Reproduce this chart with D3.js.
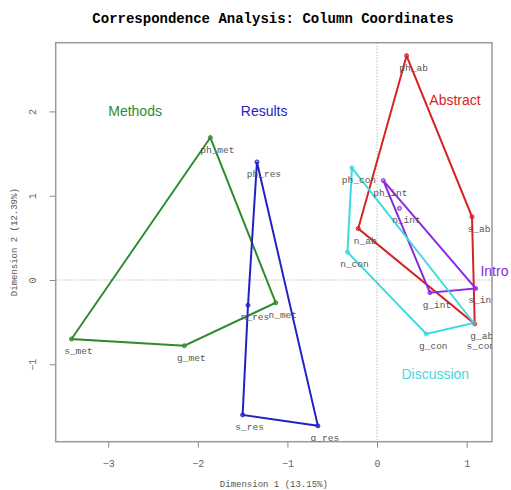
<!DOCTYPE html>
<html>
<head>
<meta charset="utf-8">
<script src="https://cdn.jsdelivr.net/npm/d3@7"></script>
<style>
body { margin: 0; background: #fff; }
</style>
</head>
<body>
<svg width="511" height="490"></svg>
<script>
// column coordinates
var labels = ["ph_ab","s_ab","g_ab","n_ab",
              "ph_int","n_int","s_int","g_int",
              "ph_met","n_met","g_met","s_met",
              "ph_res","n_res","s_res","g_res",
              "ph_con","n_con","g_con","s_con"];
var dim1 = [0.33, 1.06, 1.09, -0.21,
            0.07, 0.25, 1.10, 0.59,
            -1.86, -1.13, -2.15, -3.41,
            -1.34, -1.44, -1.50, -0.66,
            -0.28, -0.33, 0.55, 1.08];
var dim2 = [2.66, 0.75, -0.52, 0.61,
            1.18, 0.85, -0.10, -0.15,
            1.69, -0.27, -0.78, -0.70,
            1.40, -0.30, -1.60, -1.73,
            1.33, 0.33, -0.64, -0.51];
var section = ["Abstract","Abstract","Abstract","Abstract",
               "Intro","Intro","Intro","Intro",
               "Methods","Methods","Methods","Methods",
               "Results","Results","Results","Results",
               "Discussion","Discussion","Discussion","Discussion"];

var sections = ["Methods","Results","Abstract","Intro","Discussion"];
var sectionColors = ["#2e8b2e","#2222c4","#d42424","#8a2be2","#3fd9e0"];
// where the section names sit, in plot coordinates
var nameX = [-2.70, -1.26, 0.87, 1.31, 0.65];
var nameY = [2.0, 2.0, 2.14, 0.11, -1.12];

var xTicks = [-3, -2, -1, 0, 1];
var yTicks = [-1, 0, 1, 2];

var margin = {top: 42.7, right: 19, bottom: 48.3, left: 55.7};
var width = 511 - margin.left - margin.right;
var height = 490 - margin.top - margin.bottom;

var xScale = d3.scaleLinear().domain([-3.586, 1.283]).range([0, width]);
var yScale = d3.scaleLinear().domain([-1.918, 2.815]).range([height, 0]);
var color = d3.scaleOrdinal().domain(sections).range(sectionColors);

var svg = d3.select('svg');

svg.append('text')
   .attr('x', 273).attr('y', 23)
   .attr('text-anchor', 'middle')
   .style('font-family', '"Liberation Mono", "DejaVu Sans Mono", monospace')
   .style('font-weight', 'bold')
   .style('font-size', '14px')
   .text('Correspondence Analysis: Column Coordinates');

var g = svg.append('g')
   .attr('transform', 'translate(' + margin.left + ',' + margin.top + ')');

g.append('clipPath').attr('id', 'plotclip')
 .append('rect').attr('width', width).attr('height', height);

//zero lines
g.append('line')
 .attr('x1', 0).attr('x2', width)
 .attr('y1', yScale(0)).attr('y2', yScale(0))
 .attr('stroke', '#999').attr('stroke-dasharray', '1,2');
g.append('line')
 .attr('x1', xScale(0)).attr('x2', xScale(0))
 .attr('y1', 0).attr('y2', height)
 .attr('stroke', '#999').attr('stroke-dasharray', '1,2');

//axes
var xAxisGroup = g.append('g')
   .attr('transform', 'translate(0,' + height + ')')
   .call(d3.axisBottom(xScale).tickValues(xTicks).tickSize(6).tickPadding(12).tickFormat(d3.format('d')));
var yAxisGroup = g.append('g')
   .call(d3.axisLeft(yScale).tickValues(yTicks).tickSize(6).tickPadding(14).tickFormat(d3.format('d')));
yAxisGroup.selectAll('.tick text')
   .attr('transform', 'rotate(-90)')
   .attr('text-anchor', 'middle')
   .attr('x', 0).attr('dy', 0)
   .attr('y', -20);
[xAxisGroup, yAxisGroup].forEach(function(ax) {
    ax.select('.domain').remove();
    ax.selectAll('.tick line').attr('stroke', '#888');
    ax.selectAll('.tick text')
      .attr('fill', '#666')
      .style('font-family', '"Liberation Mono", "DejaVu Sans Mono", monospace')
      .style('font-size', '10px');
});

g.append('rect')
 .attr('width', width).attr('height', height)
 .attr('fill', 'none').attr('stroke', '#999').attr('stroke-width', 1.5);

svg.append('text')
   .attr('x', margin.left + width / 2).attr('y', 487)
   .attr('text-anchor', 'middle')
   .attr('fill', '#555')
   .style('font-family', '"Liberation Mono", "DejaVu Sans Mono", monospace')
   .style('font-size', '9px')
   .text('Dimension 1 (13.15%)');
svg.append('text')
   .attr('transform', 'translate(17,' + (margin.top + height / 2) + ') rotate(-90)')
   .attr('text-anchor', 'middle')
   .attr('fill', '#555')
   .style('font-family', '"Liberation Mono", "DejaVu Sans Mono", monospace')
   .style('font-size', '9px')
   .text('Dimension 2 (12.39%)');

var dataset = labels.map(function(d, i) {
    return {label: d, x: dim1[i], y: dim2[i], section: section[i]};
});

//hulls
sections.forEach(function(s) {
    var pts = dataset.filter(d => d.section == s).map(d => [xScale(d.x), yScale(d.y)]);
    var hull = d3.polygonHull(pts);
    g.append('path')
     .attr('d', 'M' + hull.join('L') + 'Z')
     .attr('fill', 'none')
     .attr('stroke', color(s))
     .attr('stroke-width', 2);
});

g.selectAll('circle')
 .data(dataset)
 .enter()
 .append('circle')
 .attr('cx', d => xScale(d.x))
 .attr('cy', d => yScale(d.y))
 .attr('r', 2)
 .attr('fill', d => color(d.section))
 .attr('fill-opacity', 0.4)
 .attr('stroke', d => color(d.section));

// labels are clipped to the plot box, like the original
g.append('g')
 .attr('clip-path', 'url(#plotclip)')
 .selectAll('text')
 .data(dataset)
 .enter()
 .append('text')
 .attr('x', d => xScale(d.x) + 7)
 .attr('y', d => yScale(d.y) + (d.label == 's_con' ? 26 : 15))
 .attr('text-anchor', 'middle')
 .attr('fill', '#555')
 .style('font-family', '"Liberation Mono", "DejaVu Sans Mono", monospace')
 .style('font-size', '9.5px')
 .text(d => d.label);

g.selectAll('.secname')
 .data(sections)
 .enter()
 .append('text')
 .attr('class', 'secname')
 .attr('x', (d, i) => xScale(nameX[i]))
 .attr('y', (d, i) => yScale(nameY[i]) + 5)
 .attr('text-anchor', 'middle')
 .attr('fill', d => color(d))
 .style('font-family', '"Liberation Sans", Arial, sans-serif')
 .style('font-size', '14px')
 .text(d => d);
</script>
</body>
</html>
